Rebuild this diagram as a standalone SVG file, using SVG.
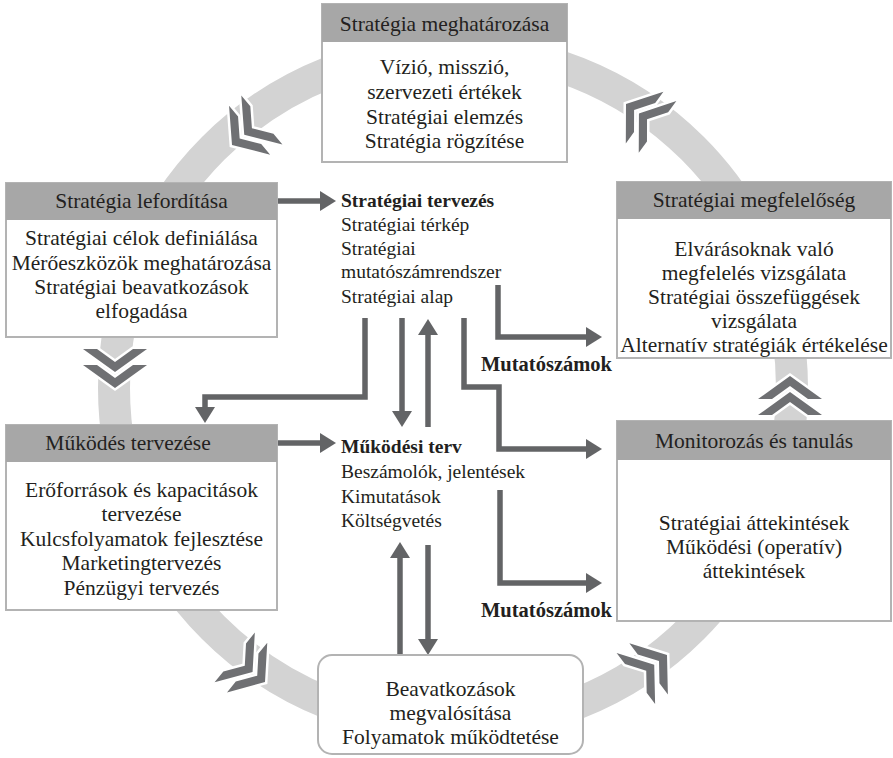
<svg xmlns="http://www.w3.org/2000/svg" xmlns:xlink="http://www.w3.org/1999/xlink" width="893" height="758" viewBox="0 0 893 758">
  <style>
    .ring { fill: none; stroke: #d3d3d3; stroke-width: 32; }
    .chev { fill: #6f7073; stroke: #ffffff; stroke-width: 5; paint-order: stroke; stroke-linejoin: miter; }
    .box { fill: #ffffff; stroke: #b3b3b3; stroke-width: 2; }
    .head { fill: #a7a7a7; }
    .t { font-family: "Liberation Serif", "Times New Roman", serif; font-size: 21.5px; fill: #231f20; text-anchor: middle; }
    .c { font-family: "Liberation Serif", "Times New Roman", serif; font-size: 19.5px; fill: #231f20; }
    .b { font-weight: bold; }
    .m { font-size: 20.5px; }
    .conn { fill: none; stroke: #636466; stroke-width: 5.5; stroke-linejoin: miter; marker-end: url(#ah); }
  </style>
  <defs>
    <marker id="ah" markerUnits="userSpaceOnUse" markerWidth="16" markerHeight="20" viewBox="0 0 16 20" refX="0" refY="10" orient="auto">
      <path d="M0,0 L16,10 L0,20 z" fill="#636466"/>
    </marker>
    <!-- double chevron pointing along +x, leading vertex at origin -->
    <g id="chev">
      <polygon class="chev" points="-16,0 -39,-32 -39,-18 -26,0 -39,18 -39,32"/>
      <polygon class="chev" points="0,0 -23,-32 -23,-18 -10,0 -23,18 -23,32"/>
    </g>
  </defs>

  <!-- cycle ring -->
  <circle class="ring" cx="453" cy="388" r="339"/>

  <!-- direction chevrons on the ring -->
  <g id="chevrons">
    <use xlink:href="#chev" transform="translate(232,145) rotate(140)"/>
    <use xlink:href="#chev" transform="translate(115,388) rotate(90)"/>
    <use xlink:href="#chev" transform="translate(265,682) rotate(39)"/>
    <use xlink:href="#chev" transform="translate(667,655) rotate(-37)"/>
    <use xlink:href="#chev" transform="translate(790,376) rotate(-90)"/>
    <use xlink:href="#chev" transform="translate(626,104) rotate(-144)"/>
  </g>

  <!-- connectors -->
  <g id="connectors">
    <path class="conn" d="M277,201 H320"/>
    <path class="conn" d="M365,318 V397 H205 V407"/>
    <path class="conn" d="M402,318 V411"/>
    <path class="conn" d="M428,427 V335"/>
    <path class="conn" d="M464,318 V387 H499 V449 H586"/>
    <path class="conn" d="M498,285 V337 H586"/>
    <path class="conn" d="M500,490 V583 H586"/>
    <path class="conn" d="M277,443 H320"/>
    <path class="conn" d="M400,655 V558"/>
    <path class="conn" d="M428,545 V639"/>
  </g>

  <g id="strategia-meghatarozasa">
    <rect class="box" x="322" y="4" width="245" height="158"/>
    <rect class="head" x="322" y="4" width="245" height="38"/>
    <text class="t" x="444.5" y="31">Stratégia meghatározása</text>
    <text class="t" x="444.5" y="74">Vízió, misszió,</text>
    <text class="t" x="444.5" y="99">szervezeti értékek</text>
    <text class="t" x="444.5" y="124">Stratégiai elemzés</text>
    <text class="t" x="444.5" y="148">Stratégia rögzítése</text>
  </g>

  <g id="strategia-leforditasa">
    <rect class="box" x="6" y="183" width="271" height="154"/>
    <rect class="head" x="6" y="183" width="271" height="37"/>
    <text class="t" x="141.5" y="208">Stratégia lefordítása</text>
    <text class="t" x="141.5" y="245">Stratégiai célok definiálása</text>
    <text class="t" x="141.5" y="270">Mérőeszközök meghatározása</text>
    <text class="t" x="141.5" y="294">Stratégiai beavatkozások</text>
    <text class="t" x="141.5" y="318">elfogadása</text>
  </g>

  <g id="strategiai-megfeleloseg">
    <rect class="box" x="617" y="182" width="274" height="176"/>
    <rect class="head" x="617" y="182" width="274" height="37"/>
    <text class="t" x="754" y="207">Stratégiai megfelelőség</text>
    <text class="t" x="754" y="256">Elvárásoknak való</text>
    <text class="t" x="754" y="280">megfelelés vizsgálata</text>
    <text class="t" x="754" y="304">Stratégiai összefüggések</text>
    <text class="t" x="754" y="328">vizsgálata</text>
    <text class="t" x="754" y="352">Alternatív stratégiák értékelése</text>
  </g>

  <g id="mukodes-tervezese">
    <rect class="box" x="6" y="425" width="271" height="185"/>
    <rect class="head" x="6" y="425" width="271" height="37"/>
    <text class="t" x="128" y="450">Működés tervezése</text>
    <text class="t" x="141.5" y="497">Erőforrások és kapacitások</text>
    <text class="t" x="141.5" y="521">tervezése</text>
    <text class="t" x="141.5" y="546">Kulcsfolyamatok fejlesztése</text>
    <text class="t" x="141.5" y="570">Marketingtervezés</text>
    <text class="t" x="141.5" y="595">Pénzügyi tervezés</text>
  </g>

  <g id="monitorozas-es-tanulas">
    <rect class="box" x="617" y="421" width="274" height="200"/>
    <rect class="head" x="617" y="421" width="274" height="39"/>
    <text class="t" x="754" y="448">Monitorozás és tanulás</text>
    <text class="t" x="754" y="530">Stratégiai áttekintések</text>
    <text class="t" x="754" y="554">Működési (operatív)</text>
    <text class="t" x="754" y="578">áttekintések</text>
  </g>

  <g id="beavatkozasok">
    <rect class="box" x="318" y="655" width="265" height="99" rx="14"/>
    <text class="t" x="450.5" y="696">Beavatkozások</text>
    <text class="t" x="450.5" y="720">megvalósítása</text>
    <text class="t" x="450.5" y="744">Folyamatok működtetése</text>
  </g>

  <g id="strategiai-tervezes">
    <text class="c b" x="341" y="207">Stratégiai tervezés</text>
    <text class="c" x="341" y="231">Stratégiai térkép</text>
    <text class="c" x="341" y="255">Stratégiai</text>
    <text class="c" x="341" y="278">mutatószámrendszer</text>
    <text class="c" x="341" y="303">Stratégiai alap</text>
  </g>

  <g id="mukodesi-terv">
    <text class="c b" x="341" y="453">Működési terv</text>
    <text class="c" x="341" y="478">Beszámolók, jelentések</text>
    <text class="c" x="341" y="503">Kimutatások</text>
    <text class="c" x="341" y="527">Költségvetés</text>
  </g>

  <g id="mutatoszamok">
    <text class="c b m" x="481" y="371">Mutatószámok</text>
    <text class="c b m" x="481" y="617">Mutatószámok</text>
  </g>
</svg>
